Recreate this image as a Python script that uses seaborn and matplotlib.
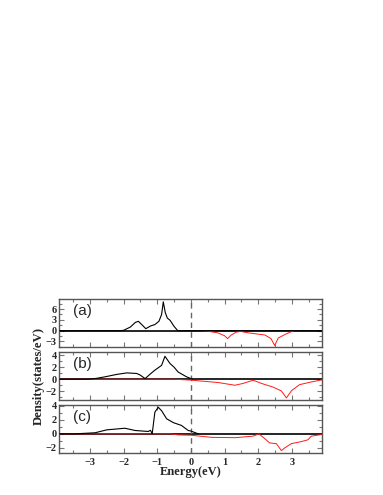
import numpy as np
import pandas as pd
import matplotlib
matplotlib.use('Agg')
import matplotlib.pyplot as plt
from matplotlib.ticker import MultipleLocator
import seaborn as sns

# ---- data (energy in eV, DOS in states/eV) ----
a_up_e = [-3.9, -2.1, -2.0, -1.8, -1.65, -1.56, -1.45, -1.34, -1.2, -1.07, -0.95,
          -0.87, -0.82, -0.76, -0.7, -0.62, -0.5, -0.39, 3.9]
a_up_d = [0, 0, 0.1, 1.0, 2.3, 2.6, 1.6, 0.55, 1.3, 1.7, 2.6,
          4.5, 8.0, 5.0, 3.5, 2.9, 1.2, 0, 0]
a_dn_e = [0.3, 0.47, 0.8, 1.0, 1.09, 1.2, 1.35, 1.48, 1.7, 1.9, 2.2, 2.38,
          2.49, 2.6, 2.79, 2.95, 3.07]
a_dn_d = [0, -0.1, -0.6, -1.4, -2.2, -1.2, -0.4, -0.2, -0.6, -0.84, -1.2, -2.2,
          -4.1, -2.0, -1.1, -0.4, 0]

b_up_e = [-3.9, -3.05, -2.8, -2.55, -2.2, -1.9, -1.61, -1.51, -1.36, -1.2, -1.07,
          -0.87, -0.77, -0.62, -0.5, -0.38, -0.13, 0.05]
b_up_d = [0, 0, 0.15, 0.4, 0.8, 1.05, 0.95, 0.7, 0.1, 0.9, 1.5,
          2.3, 3.8, 2.6, 2.0, 1.2, 0.4, 0]
b_dn_e = [-3.9, -0.5, 0.0, 0.81, 1.31, 1.55, 1.85, 2.1, 2.44, 2.69, 2.84, 2.99,
          3.23, 3.58, 3.9]
b_dn_d = [0, 0, -0.15, -0.55, -1.0, -0.7, -0.17, -0.7, -1.3, -1.95, -3.1, -1.9,
          -0.9, -0.45, -0.1]

c_up_e = [-3.9, -3.44, -2.85, -2.5, -1.96, -1.66, -1.27, -1.2, -1.15, -1.07, -0.97,
          -0.87, -0.72, -0.52, -0.28, -0.08, 0.0, 0.22]
c_up_d = [0, 0, 0.15, 0.57, 0.8, 0.48, 0.34, 0.5, 0.0, 3.1, 3.8,
          3.3, 2.15, 1.6, 1.2, 0.48, 0.4, 0]
c_dn_e = [-3.9, -0.6, -0.38, 0.0, 0.61, 1.31, 1.85, 2.02, 2.2, 2.34, 2.54, 2.69,
          2.79, 2.99, 3.29, 3.48, 3.58, 3.88]
c_dn_d = [0, 0, -0.15, -0.2, -0.5, -0.55, -0.33, 0.0, -0.7, -1.3, -1.4, -2.4,
          -2.0, -1.4, -1.1, -0.85, -0.33, -0.1]

panel_labels = ['(a)', '(b)', '(c)']
ylims = [(-4.6, 8.8), (-3.5, 4.5), (-2.8, 4.1)]
ymajor = [3, 2, 2]
xticks = [-3, -2, -1, 0, 1, 2, 3]

panels = [
    (a_up_e, a_up_d, a_dn_e, a_dn_d),
    (b_up_e, b_up_d, b_dn_e, b_dn_d),
    (c_up_e, c_up_d, c_dn_e, c_dn_d),
]

sns.set_style('ticks')
plt.rcParams['font.family'] = ['Liberation Serif', 'DejaVu Serif']
plt.rcParams['font.weight'] = 'bold'

fig, axes = plt.subplots(3, 1, figsize=(3.83, 4.95), dpi=100, sharex=True)
fig.subplots_adjust(left=0.154, right=0.841, top=0.396, bottom=0.084, hspace=0.1)

for i, ax in enumerate(axes):
    up_e, up_d, dn_e, dn_d = panels[i]
    ax.axhline(0, color='black', lw=1.2, zorder=1)
    ax.axvline(0, color='#666666', lw=1.0, ls=(0, (4, 3)), zorder=1)
    sns.lineplot(x=dn_e, y=dn_d, color='#ff1a1a', lw=0.7, ax=ax, zorder=2, sort=False)
    sns.lineplot(x=up_e, y=up_d, color='black', lw=0.8, ax=ax, zorder=3, sort=False)

    ax.set_xlim(-3.92, 3.9)
    ax.set_ylim(*ylims[i])
    ax.xaxis.set_major_locator(plt.FixedLocator(xticks))
    ax.xaxis.set_minor_locator(MultipleLocator(0.5))
    ax.yaxis.set_major_locator(MultipleLocator(ymajor[i]))
    ax.yaxis.set_minor_locator(MultipleLocator(ymajor[i] / 2))
    ax.tick_params(which='both', direction='in', top=True, right=True,
                   color='#777777', width=0.8)
    ax.tick_params(which='major', length=3.5, labelsize=7.5, pad=1.5)
    ax.tick_params(which='minor', length=2)
    for sp in ax.spines.values():
        sp.set_color('#555555')
        sp.set_linewidth(1.0)
    ax.set_ylabel('')
    ax.text(0.055, 0.75, panel_labels[i], transform=ax.transAxes, va='center',
            ha='left', fontsize=11, fontweight='normal', family='Liberation Sans')
    if i < 2:
        ax.tick_params(labelbottom=False)
    else:
        ax.tick_params(axis='x', pad=3)

fig.text(0.101, 0.24, 'Density(states/eV)', rotation=90, ha='center', va='center',
         fontsize=9.2, fontweight='bold')
fig.text(0.499, 0.046, 'Energy(eV)', ha='center', va='center',
         fontsize=9, fontweight='bold')

fig.savefig('out.png', dpi=100, facecolor='white')
